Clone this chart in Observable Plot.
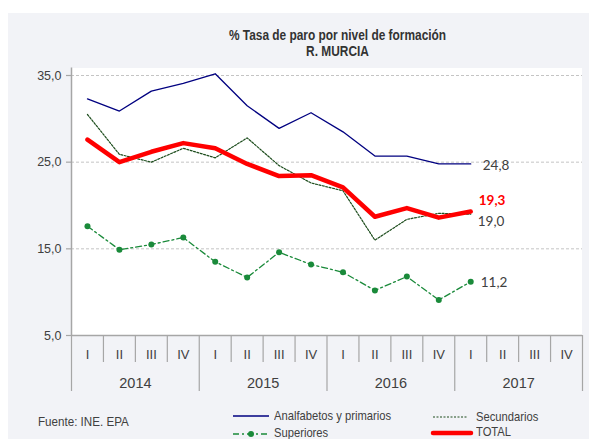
<!DOCTYPE html>
<html><head><meta charset="utf-8">
<script src="https://cdn.jsdelivr.net/npm/d3@7"></script>
<script src="https://cdn.jsdelivr.net/npm/@observablehq/plot@0.6"></script>
<style>
html,body{margin:0;padding:0;background:#fff;overflow:hidden;}
#wrap{position:relative;width:601px;height:439px;overflow:hidden;font-family:"Liberation Sans",Arial,sans-serif;color:#404040;}
#panel{position:absolute;left:8px;top:13px;width:581px;height:440px;background:#f2f3f7;}
#plotbg{position:absolute;left:71px;top:67.5px;width:511px;height:267.5px;background:#fff;}
#title{position:absolute;left:0;width:675px;top:28px;text-align:center;font-weight:bold;font-size:14.5px;line-height:15.7px;color:#333;transform:scaleX(0.82);transform-origin:337.5px 0;}
#chart{position:absolute;left:0;top:60px;}
.lt{position:absolute;font-size:13.5px;line-height:16px;color:#404040;white-space:nowrap;transform:scaleX(0.83);transform-origin:0 0;}
#legsvg{position:absolute;left:0;top:0;}
</style></head>
<body>
<div id="wrap">
  <div id="panel"></div>
  <div id="plotbg"></div>
  <div id="title">% Tasa de paro por nivel de formación<br>R. MURCIA</div>
  <div id="chart"></div>
  <svg id="legsvg" width="601" height="439">
    <line x1="233" x2="269" y1="416" y2="416" stroke="#000080" stroke-width="1.3"/>
    <line x1="433" x2="467" y1="417" y2="417" stroke="#1d4d1d" stroke-width="1.2" stroke-dasharray="2,1.5"/>
    <line x1="233" x2="269" y1="434" y2="434" stroke="#1a8a3a" stroke-width="1.3" stroke-dasharray="6,3,2,3"/>
    <circle cx="251" cy="434" r="3" fill="#1a8a3a"/>
    <line x1="433" x2="471" y1="433" y2="433" stroke="#ff0000" stroke-width="4.5" stroke-linecap="round"/>
  </svg>
  <div class="lt" style="left:38px;top:414px;transform:scaleX(0.86);">Fuente: INE. EPA</div>
  <div class="lt" style="left:274px;top:408px;">Analfabetos y primarios</div>
  <div class="lt" style="left:476px;top:409px;">Secundarios</div>
  <div class="lt" style="left:274px;top:425px;">Superiores</div>
  <div class="lt" style="left:476px;top:424px;">TOTAL</div>
</div>
<script>
// ---- data ----
const quarters = ["I", "II", "III", "IV"];
const years = ["2014", "2015", "2016", "2017"];
const yTicks = [5, 15, 25, 35];
const gridTicks = [15, 25, 35];
const analfabetos = [32.3, 30.9, 33.2, 34.1, 35.2, 31.5, 28.9, 30.7, 28.5, 25.7, 25.7, 24.8, 24.8];
const secundarios = [30.5, 25.9, 25.0, 26.6, 25.5, 27.8, 24.6, 22.6, 21.7, 16.0, 18.4, 19.1, 19.0];
const superiores = [17.6, 14.9, 15.5, 16.3, 13.5, 11.7, 14.6, 13.2, 12.3, 10.2, 11.8, 9.1, 11.2];
const total = [27.6, 25.0, 26.2, 27.2, 26.6, 24.8, 23.4, 23.5, 22.1, 18.7, 19.7, 18.6, 19.3];

// ---- derived tables ----
const slots = years.flatMap(y => quarters.map(q => ({year: y, q})));
slots.forEach((d, k) => d.k = k);
const rows = analfabetos.map((v, i) => ({i, analf: v, secund: secundarios[i], sup: superiores[i], total: total[i]}));
const last = rows[rows.length - 1];
const fmt = v => v.toFixed(1).replace(".", ",");
const bounds = d3.range(slots.length + 1);
const yearBounds = bounds.filter(b => b % quarters.length === 0);
const qBounds = bounds.filter(b => b % quarters.length !== 0);
const xi = d => d.i + 0.5;
const axisFont = '"Liberation Sans",Arial,sans-serif';

const chart = Plot.plot({
  width: 601, height: 340,
  marginLeft: 71, marginRight: 19, marginTop: 15, marginBottom: 65,
  style: {background: "transparent", fontFamily: axisFont, overflow: "visible"},
  x: {type: "linear", domain: [0, slots.length], axis: null},
  y: {domain: [5, 35], axis: null},
  marks: [
    Plot.ruleY(gridTicks, {stroke: "#c4c4c4", strokeWidth: 1, strokeDasharray: "3,2"}),
    Plot.ruleY([5], {stroke: "#a6a6a6", strokeWidth: 1.5}),
    Plot.ruleX([0], {stroke: "#a6a6a6", strokeWidth: 1.5, insetTop: -7.5}),
    Plot.ruleY(yTicks, {x1: 0, x2: 0, insetLeft: -5, stroke: "#a6a6a6", strokeWidth: 1.2}),
    Plot.text(yTicks, {x: 0, y: d => d, text: fmt, textAnchor: "end", dx: -10, fontSize: 12.5, fill: "#404040"}),
    Plot.ruleX(qBounds, {x: d => d, y1: 5, y2: 5, insetBottom: -27, stroke: "#a6a6a6", strokeWidth: 1.2}),
    Plot.ruleX(yearBounds, {x: d => d, y1: 5, y2: 5, insetBottom: -56, stroke: "#a6a6a6", strokeWidth: 1.2}),
    Plot.text(slots, {x: d => d.k + 0.5, y: 5, text: "q", dy: 19, fontSize: 13, fill: "#404040"}),
    Plot.text(years, {x: (d, j) => j * quarters.length + quarters.length / 2, y: 5, text: d => d, dy: 48, fontSize: 14.5, fill: "#404040"}),
    Plot.line(rows, {x: xi, y: "analf", stroke: "#000080", strokeWidth: 1.3}),
    Plot.line(rows, {x: xi, y: "secund", stroke: "#1d4d1d", strokeWidth: 1.2, strokeDasharray: "2,1.5"}),
    Plot.line(rows, {x: xi, y: "sup", stroke: "#1a8a3a", strokeWidth: 1.3, strokeDasharray: "6,3,2,3"}),
    Plot.dot(rows, {x: xi, y: "sup", r: 3, fill: "#1a8a3a"}),
    Plot.line(rows, {x: xi, y: "total", stroke: "#ff0000", strokeWidth: 4.5}),
    Plot.text([last], {x: xi, y: "analf", text: d => fmt(d.analf), textAnchor: "start", dx: 12, dy: 2, fontFamily: "Lato", fontSize: 13.5, fill: "#404040"}),
    Plot.text([last], {x: xi, y: "total", text: d => fmt(d.total), textAnchor: "start", dx: 8, dy: -11, fontFamily: "Lato", fontSize: 13.5, fontWeight: "bold", fill: "#ff0000"}),
    Plot.text([last], {x: xi, y: "secund", text: d => fmt(d.secund), textAnchor: "start", dx: 7, dy: 8, fontFamily: "Lato", fontSize: 13.5, fill: "#404040"}),
    Plot.text([last], {x: xi, y: "sup", text: d => fmt(d.sup), textAnchor: "start", dx: 10, dy: 1, fontFamily: "Lato", fontSize: 13.5, fill: "#404040"})
  ]
});
document.getElementById("chart").appendChild(chart);
</script>
</body></html>
